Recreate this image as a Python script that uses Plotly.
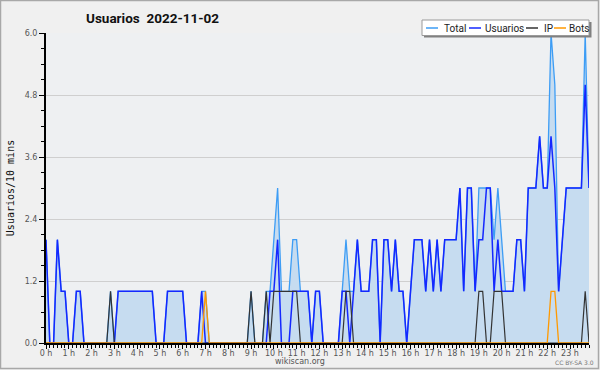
import plotly.graph_objects as go

# 10-minute slots over the day (minutes since midnight)
slot_minutes = list(range(0, 1440, 10))

total = [2,0,0,2,1,1,0,0,1,1,
         0,0,0,0,0,0,0,1,0,1,
         1,1,1,1,1,1,1,1,1,0,
         0,0,1,1,1,1,1,0,0,0,
         0,1,1,0,0,0,0,0,0,0,
         0,0,0,0,1,0,0,0,1,1,
         2,3,1,1,1,2,2,1,1,1,
         0,1,1,0,0,0,0,0,1,2,
         1,1,2,1,1,1,2,2,0,2,
         2,1,2,1,1,0,1,2,2,2,
         1,2,1,2,1,2,2,2,2,3,
         1,3,3,1,3,3,3,3,2,3,
         2,1,1,1,2,2,1,3,3,3,
         4,3,3,6,5,1,2,3,3,3,
         3,3,6,3]

usuarios = [2,0,0,2,1,1,0,0,1,1,
            0,0,0,0,0,0,0,0,0,1,
            1,1,1,1,1,1,1,1,1,0,
            0,0,1,1,1,1,1,0,0,0,
            0,1,0,0,0,0,0,0,0,0,
            0,0,0,0,0,0,0,0,0,1,
            1,2,0,0,0,1,1,1,1,1,
            0,1,1,0,0,0,0,0,1,1,
            0,1,2,1,1,1,2,2,0,2,
            2,1,2,1,1,0,1,2,2,2,
            1,2,1,2,1,2,2,2,2,3,
            1,3,3,1,2,2,3,3,1,2,
            1,1,1,1,2,2,1,3,3,3,
            4,3,3,4,3,1,2,3,3,3,
            3,3,5,3]

ip = [0,0,0,0,0,0,0,0,0,0,
      0,0,0,0,0,0,0,1,0,0,
      0,0,0,0,0,0,0,0,0,0,
      0,0,0,0,0,0,0,0,0,0,
      0,0,0,0,0,0,0,0,0,0,
      0,0,0,0,1,0,0,0,1,0,
      1,1,1,1,1,1,1,0,0,0,
      0,0,0,0,0,0,0,0,0,1,
      1,0,0,0,0,0,0,0,0,0,
      0,0,0,0,0,0,0,0,0,0,
      0,0,0,0,0,0,0,0,0,0,
      0,0,0,0,1,1,0,0,1,1,
      1,0,0,0,0,0,0,0,0,0,
      0,0,0,0,0,0,0,0,0,0,
      0,0,1,0]

bots = [0,0,0,0,0,0,0,0,0,0,
        0,0,0,0,0,0,0,0,0,0,
        0,0,0,0,0,0,0,0,0,0,
        0,0,0,0,0,0,0,0,0,0,
        0,0,1,0,0,0,0,0,0,0,
        0,0,0,0,0,0,0,0,0,0,
        0,0,0,0,0,0,0,0,0,0,
        0,0,0,0,0,0,0,0,0,0,
        0,0,0,0,0,0,0,0,0,0,
        0,0,0,0,0,0,0,0,0,0,
        0,0,0,0,0,0,0,0,0,0,
        0,0,0,0,0,0,0,0,0,0,
        0,0,0,0,0,0,0,0,0,0,
        0,0,0,1,1,0,0,0,0,0,
        0,0,0,0]

hour_ticks = list(range(24))
hour_labels = [f"{h} h" for h in hour_ticks]
y_ticks = [0.0, 1.2, 2.4, 3.6, 4.8, 6.0]

series_names = ["Total", "Usuarios", "IP", "Bots"]
series_colors = ["#3d9df5", "#1428ff", "#333333", "#ff9900"]

x_hours = [m / 60 for m in slot_minutes]

W, H = 600, 370
ML, MR, MT, MB = 46, 11, 33, 27
PW, PH = W - ML - MR, H - MT - MB

def xp(px):
    return (px - ML) / PW

def yp(py):
    return (H - MB - py) / PH

fig = go.Figure()
fig.add_trace(go.Scatter(x=x_hours, y=total, mode="lines", fill="tozeroy",
                         fillcolor="#c6dcf0", line=dict(color=series_colors[0], width=1.3),
                         name="Total", hoverinfo="skip"))
fig.add_trace(go.Scatter(x=x_hours, y=usuarios, mode="lines",
                         line=dict(color=series_colors[1], width=1.5), name="Usuarios"))
fig.add_trace(go.Scatter(x=x_hours, y=ip, mode="lines",
                         line=dict(color=series_colors[2], width=1.2), name="IP"))
fig.add_trace(go.Scatter(x=x_hours, y=bots, mode="lines",
                         line=dict(color=series_colors[3], width=1.3), name="Bots"))

tickfont = dict(family="DejaVu Sans", size=8, color="#555555")
narrow = "Roboto, sans-serif"

fig.update_layout(
    width=W, height=H,
    margin=dict(l=ML, r=MR, t=MT, b=MB, pad=0),
    paper_bgcolor="#f0f0f0",
    plot_bgcolor="#eef0f2",
    showlegend=False,
    xaxis=dict(range=[0, 143 / 6], tickvals=hour_ticks, ticktext=hour_labels,
               ticks="outside", ticklen=4, tickwidth=1, tickcolor="#000",
               showgrid=False, zeroline=False, showline=True, linecolor="#000", linewidth=2,
               tickfont=tickfont, ticklabelstandoff=-3, layer="above traces",
               minor=dict(dtick=1 / 6, tick0=0, ticks="outside", ticklen=3, tickcolor="#000", showgrid=False)),
    yaxis=dict(range=[0, 6], tickvals=y_ticks, tickformat=".1f",
               ticks="outside", ticklen=5, tickwidth=1, tickcolor="#000",
               showgrid=True, gridcolor="#cfcfcf", gridwidth=1,
               zeroline=False, showline=True, linecolor="#000", linewidth=2,
               tickfont=tickfont, layer="above traces",
               title=dict(text="Usuarios/10 mins", font=dict(family="DejaVu Sans Mono", size=10, color="#111"), standoff=8),
               minor=dict(dtick=0.3, tick0=0, ticks="outside", ticklen=3, tickcolor="#000", showgrid=False)),
)

shapes = []
# outer frame
shapes.append(dict(type="rect", xref="paper", yref="paper", x0=xp(0.5), x1=xp(598.5), y0=yp(368.5), y1=yp(0.5),
                   line=dict(color="#a8a8a8", width=1.5), layer="above"))
# legend shadow and box
shapes.append(dict(type="rect", xref="paper", yref="paper", x0=xp(424), x1=xp(591.5), y0=yp(37.5), y1=yp(22),
                   fillcolor="#808080", line=dict(width=0), layer="above"))
shapes.append(dict(type="rect", xref="paper", yref="paper", x0=xp(422), x1=xp(589), y0=yp(35.5), y1=yp(20),
                   fillcolor="#ffffff", line=dict(color="#9a9a9a", width=1), layer="above"))
legend_line_x = [426, 469, 526, 554]
legend_text_x = [443, 484, 543, 568]
annotations = []
for name, col, lx, tx in zip(series_names, series_colors, legend_line_x, legend_text_x):
    shapes.append(dict(type="line", xref="paper", yref="paper", x0=xp(lx), x1=xp(lx + 12),
                       y0=yp(28), y1=yp(28), line=dict(color=col, width=1.5), layer="above"))
    annotations.append(dict(text=name, xref="paper", yref="paper", x=xp(tx - 1), y=yp(28),
                            xanchor="left", yanchor="middle", showarrow=False,
                            font=dict(family=narrow, size=10, color="#222")))

annotations.append(dict(text="<b>Usuarios\u00a0\u00a02022-11-02</b>", xref="paper", yref="paper",
                        x=xp(84), y=yp(18.5), xanchor="left", yanchor="middle", showarrow=False,
                        font=dict(family=narrow, size=13.5, color="#111")))
annotations.append(dict(text="wikiscan.org", xref="paper", yref="paper", x=xp(300), y=yp(361.5),
                        xanchor="center", yanchor="middle", showarrow=False,
                        font=dict(family="DejaVu Sans", size=8, color="#555")))
annotations.append(dict(text="CC BY-SA 3.0", xref="paper", yref="paper", x=xp(596), y=yp(362.5),
                        xanchor="right", yanchor="middle", showarrow=False,
                        font=dict(family="DejaVu Sans", size=6, color="#777")))

fig.update_layout(shapes=shapes, annotations=annotations)
fig.write_html("out.html")
